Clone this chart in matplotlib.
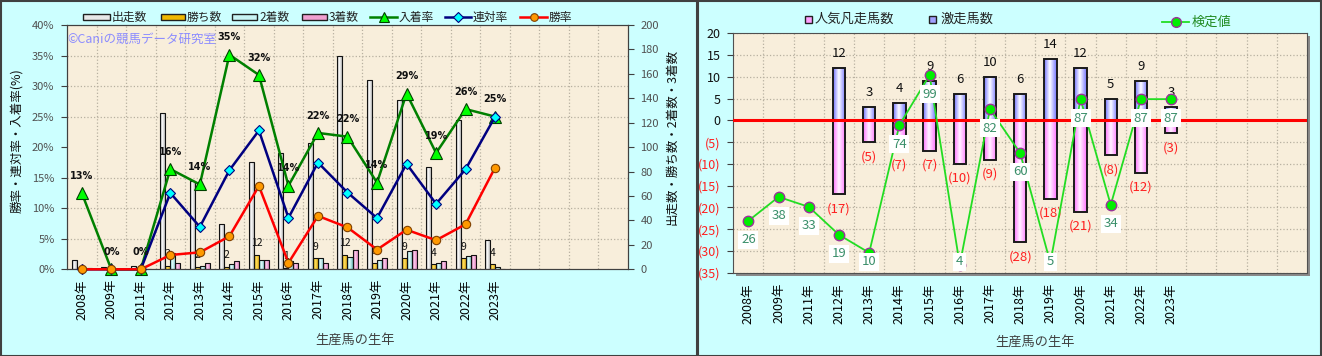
import numpy as np
import matplotlib
matplotlib.use('Agg')
import matplotlib.pyplot as plt
from matplotlib.patches import Rectangle
from matplotlib.lines import Line2D
from matplotlib.colors import LinearSegmentedColormap
from matplotlib.ticker import FixedLocator, MultipleLocator

plt.rcParams['font.family'] = ['Noto Sans CJK JP', 'DejaVu Sans']

# ---------------- data ----------------
years = ['2008年', '2009年', '2011年', '2012年', '2013年', '2014年', '2015年', '2016年',
         '2017年', '2018年', '2019年', '2020年', '2021年', '2022年', '2023年']
runs    = [8, 2, 3, 128, 72, 37, 88, 95, 103, 175, 155, 139, 84, 122, 24]
wins    = [0, 0, 0, 3, 2, 2, 12, 1, 9, 12, 5, 9, 4, 9, 4]
seconds = [0, 0, 0, 13, 3, 4, 8, 7, 9, 10, 8, 15, 5, 11, 2]
thirds  = [1, 0, 0, 5, 5, 7, 8, 5, 5, 16, 9, 16, 7, 12, 0]

gekisou = [0, 0, 0, 12, 3, 4, 9, 6, 10, 6, 14, 12, 5, 9, 3]      # 激走馬数
bonsou  = [0, 0, 0, 17, 5, 7, 7, 10, 9, 28, 18, 21, 8, 12, 3]    # 人気凡走馬数
kentei  = [26, 38, 33, 19, 10, 74, 99, 4, 82, 60, 5, 87, 34, 87, 87]  # 検定値

n_slots = 19

W, H = 1322, 356
fig = plt.figure(figsize=(W / 100, H / 100), dpi=100)
fig.patch.set_facecolor('#CCFFFF')


def fy(y):
    return 1 - y / H


def px_axes(x0, y0, x1, y1):
    return fig.add_axes([x0 / W, 1 - y1 / H, (x1 - x0) / W, (y1 - y0) / H])


def gradient_bars(ax, bars, c_edge, c_mid, mid=0.4):
    cmap = LinearSegmentedColormap.from_list('g', [(0, c_edge), (mid, c_mid), (1, c_edge)])
    grad = np.linspace(0, 1, 64).reshape(1, -1)
    for p in bars:
        x0, y0 = p.get_x(), p.get_y()
        w, h = p.get_width(), p.get_height()
        if h == 0:
            continue
        im = ax.imshow(grad, cmap=cmap, aspect='auto',
                       extent=[x0, x0 + w, min(y0, y0 + h), max(y0, y0 + h)],
                       zorder=p.get_zorder() - 0.05, interpolation='bilinear')
        im.set_clip_path(p)


# panel frames
fig.add_artist(Rectangle((0.5 / W, fy(355.5)), 696 / W, 355 / H, transform=fig.transFigure,
                         facecolor='none', edgecolor='#404040', lw=1.5, zorder=20))
fig.add_artist(Rectangle((697.5 / W, fy(355.5)), 623.5 / W, 355 / H, transform=fig.transFigure,
                         facecolor='none', edgecolor='#404040', lw=1.5, zorder=20))

x = np.arange(len(years))
slot_ticks = np.arange(n_slots)
slot_labels = years + [''] * (n_slots - len(years))
grid_kw = dict(color='#B8B0A0', linestyle=':', linewidth=0.9)

# ================= LEFT CHART =================
axc = px_axes(67, 25, 628, 269.3)
axc.set_facecolor('#F8EEDB')
bw = 0.17
offs = [-1.5 * bw, -0.5 * bw, 0.5 * bw, 1.5 * bw]
series = [(runs, '#A0A0A0', '#FFFFFF'), (wins, '#D89A00', '#FFE060'),
          (seconds, '#70C0C0', '#E8FFFF'), (thirds, '#D068A8', '#FFD0F0')]
for (vals, ce, cm), off in zip(series, offs):
    bars = axc.bar(x + off, vals, bw, facecolor='none', edgecolor='#111111',
                   linewidth=0.8, zorder=2)
    gradient_bars(axc, bars, ce, cm)

for i, w in enumerate(wins):
    if w > 0:
        axc.annotate(str(w), (x[i] + offs[1], w), xytext=(0, 8.5), textcoords='offset points',
                     ha='center', va='center', fontsize=7.5, color='#111111', zorder=5)

axp = axc.twinx()

axc.set_xlim(-0.5, n_slots - 0.5)
axc.set_ylim(0, 200)
axc.set_yticks(np.arange(0, 201, 20))
axc.yaxis.set_minor_locator(MultipleLocator(25))
axc.xaxis.set_minor_locator(FixedLocator(np.arange(0.5, n_slots - 0.5, 1)))
axc.grid(which='minor', **grid_kw)
axc.grid(which='major', visible=False)
axc.set_axisbelow(True)
axc.set_xticks(slot_ticks)
axc.set_xticklabels(slot_labels, rotation=90, fontsize=9)
axc.yaxis.tick_right()
axc.tick_params(axis='y', which='major', length=4, direction='out', labelsize=8,
                labelcolor='#505050', pad=5, color='#404040',
                left=False, labelleft=False, right=True, labelright=True)
axc.tick_params(which='minor', length=0)
axc.tick_params(axis='x', which='major', length=0, pad=7)
for s in axc.spines.values():
    s.set_color('#404040')

ins_rate = [(w + s + t) / r * 100 for w, s, t, r in zip(wins, seconds, thirds, runs)]
ren_rate = [(w + s) / r * 100 for w, s, r in zip(wins, seconds, runs)]
win_rate = [w / r * 100 for w, r in zip(wins, runs)]
axp.plot(x, ins_rate, color='#008000', lw=1.8, marker='^', ms=8.5, mfc='#00FF00',
         mec='#004000', mew=0.8, zorder=3, clip_on=False)
axp.plot(x, ren_rate, color='#000080', lw=1.8, marker='D', ms=5.5, mfc='#00FFFF',
         mec='#000080', mew=0.8, zorder=4, clip_on=False)
axp.plot(x, win_rate, color='#FF0000', lw=1.8, marker='o', ms=6, mfc='#FF9900',
         mec='#804000', mew=0.8, zorder=5, clip_on=False)
for i, v in enumerate(ins_rate):
    axp.annotate('%d%%' % int(v + 0.5), (x[i], v), xytext=(0, 12.5), textcoords='offset points',
                 ha='center', va='center', fontsize=7, fontweight='bold',
                 family='DejaVu Sans', color='#111111', zorder=6)
axp.set_ylim(0, 40)
axp.set_xlim(-0.5, n_slots - 0.5)
axp.set_yticks(np.arange(0, 41, 5))
axp.set_yticklabels(['%d%%' % t for t in range(0, 41, 5)])
axp.yaxis.tick_left()
axp.tick_params(axis='y', length=4, direction='out', labelsize=8, labelcolor='#505050',
                pad=5, color='#404040', left=True, labelleft=True, right=False, labelright=False)
for s in axp.spines.values():
    s.set_color('#404040')

fig.text(67 / W, fy(39), '©Caniの競馬データ研究室', color='#8C8CFF', fontsize=9,
         ha='left', va='center', zorder=10)
fig.text(17 / W, fy(141), '勝率・連対率・入着率(%)', rotation=90, ha='center', va='center',
         fontsize=9, color='#111111')
fig.text(672 / W, fy(137), '出走数・勝ち数・2着数・3着数', rotation=90, ha='center', va='center',
         fontsize=9, color='#111111')
fig.text(355 / W, fy(340), '生産馬の生年', ha='center', va='center', fontsize=9.5, color='#404040')


# left legend
def legend_bar(x0, x1, yc, h, face):
    fig.add_artist(Rectangle((x0 / W, fy(yc + h / 2)), (x1 - x0) / W, h / H,
                             transform=fig.transFigure, facecolor=face,
                             edgecolor='#202020', lw=1.0, zorder=5))


def legend_line(x0, x1, yc, color, marker, mfc, mec, ms):
    fig.add_artist(Line2D([x0 / W, x1 / W], [fy(yc)] * 2, transform=fig.transFigure,
                          color=color, lw=1.8, zorder=5))
    fig.add_artist(Line2D([(x0 + x1) / 2 / W], [fy(yc)], transform=fig.transFigure,
                          marker=marker, mfc=mfc, mec=mec, ms=ms, mew=0.8, zorder=6))


leg_y = 17
legend_bar(83, 110, leg_y, 6, '#E8E8E8')
fig.text(112 / W, fy(leg_y), '出走数', fontsize=8.5, va='center', color='#222222')
legend_bar(161, 185, leg_y, 6, '#F0B800')
fig.text(187 / W, fy(leg_y), '勝ち数', fontsize=8.5, va='center', color='#222222')
legend_bar(232, 257, leg_y, 6, '#C8F4F4')
fig.text(259 / W, fy(leg_y), '2着数', fontsize=8.5, va='center', color='#222222')
legend_bar(302, 327, leg_y, 6, '#F0A0D0')
fig.text(329 / W, fy(leg_y), '3着数', fontsize=8.5, va='center', color='#222222')
legend_line(370, 397, leg_y, '#008000', '^', '#00FF00', '#004000', 7)
fig.text(399 / W, fy(leg_y), '入着率', fontsize=8.5, va='center', color='#222222')
legend_line(445, 471, leg_y, '#000080', 'D', '#00FFFF', '#000080', 5)
fig.text(473 / W, fy(leg_y), '連対率', fontsize=8.5, va='center', color='#222222')
legend_line(520, 547, leg_y, '#FF0000', 'o', '#FF9900', '#804000', 5.5)
fig.text(549 / W, fy(leg_y), '勝率', fontsize=8.5, va='center', color='#222222')

# ================= RIGHT CHART =================
fig.add_artist(Rectangle((736 / W, fy(275.7)), (1307 - 733.3) / W, (272.7 - 33.3) / H,
                         transform=fig.transFigure, facecolor='#8A8A8A', edgecolor='none',
                         zorder=-0.5))
axR = px_axes(733.3, 33.3, 1307, 272.7)
axR.set_facecolor('#F8EEDB')
rw = 0.41
gb = axR.bar(x, gekisou, rw, facecolor='none', edgecolor='#1A1A1A', linewidth=1.4, zorder=2)
gradient_bars(axR, gb, '#7070FF', '#FFFFFF', 0.45)
bb = axR.bar(x, [-b for b in bonsou], rw, facecolor='none', edgecolor='#1A1A1A',
             linewidth=1.4, zorder=2)
gradient_bars(axR, bb, '#FF70FF', '#FFF4FF', 0.45)
axR.axhline(0, color='#FF0000', lw=2.2, zorder=3)
for i in range(len(years)):
    if gekisou[i] > 0:
        axR.annotate(str(gekisou[i]), (x[i], gekisou[i]), xytext=(0, 10.5),
                     textcoords='offset points', ha='center', va='center',
                     fontsize=9.5, color='#111111', zorder=6)
    if bonsou[i] > 0:
        axR.annotate('(%d)' % bonsou[i], (x[i], -bonsou[i]), xytext=(0, -10.5),
                     textcoords='offset points', ha='center', va='center',
                     fontsize=9.5, color='#FF2020', zorder=6)

axR.set_xlim(-0.5, n_slots - 0.5)
axR.set_ylim(-35, 20)
rticks = list(range(20, -36, -5))
axR.set_yticks(rticks)
axR.set_yticklabels([str(t) if t >= 0 else '(%d)' % -t for t in rticks])
for lbl, t in zip(axR.get_yticklabels(), rticks):
    lbl.set_color('#111111' if t >= 0 else '#FF2020')
axR.tick_params(axis='y', length=4, direction='out', labelsize=9, pad=5, color='#404040')
axR.xaxis.set_minor_locator(FixedLocator(np.arange(0.5, n_slots - 0.5, 1)))
axR.grid(which='minor', axis='x', **grid_kw)
axR.grid(which='major', axis='y', **grid_kw)
axR.set_axisbelow(True)
axR.tick_params(which='minor', length=0)
axR.set_xticks(slot_ticks)
axR.set_xticklabels(slot_labels, rotation=90, fontsize=9)
axR.tick_params(axis='x', which='major', length=0, pad=7.5)
for s in axR.spines.values():
    s.set_color('#505050')

ax2 = axR.twinx()
ax2.set_ylim(0, 120)
ax2.set_xlim(-0.5, n_slots - 0.5)
ax2.axis('off')
ax2.plot(x, kentei, color='#22DD22', lw=1.3, marker='o', ms=7.5, mfc='#00EE00',
         mec='#993399', mew=1.0, zorder=3, clip_on=False)
for i, v in enumerate(kentei):
    ax2.text(x[i], max(v - 9.5, 5.4), str(v), ha='center', va='center', fontsize=9.5,
             color='#3A8F6A', zorder=5,
             bbox=dict(boxstyle='square,pad=0.2', facecolor='white', edgecolor='none'))

fig.text(1035 / W, fy(342), '生産馬の生年', ha='center', va='center', fontsize=9.5, color='#404040')

# right legend
fig.add_artist(Rectangle((805 / W, fy(22.5)), 7 / W, 7 / H, transform=fig.transFigure,
                         facecolor='#FFA0FF', edgecolor='#202020', lw=1.0, zorder=5))
fig.text(815 / W, fy(19), '人気凡走馬数', fontsize=9.5, va='center', color='#222222')
fig.add_artist(Rectangle((929 / W, fy(22.5)), 7 / W, 7 / H, transform=fig.transFigure,
                         facecolor='#A0A0FF', edgecolor='#202020', lw=1.0, zorder=5))
fig.text(940 / W, fy(19), '激走馬数', fontsize=9.5, va='center', color='#222222')
fig.add_artist(Line2D([1162 / W, 1189 / W], [fy(22)] * 2, transform=fig.transFigure,
                      color='#22DD22', lw=1.3, zorder=5))
fig.add_artist(Line2D([1175.5 / W], [fy(22)], transform=fig.transFigure, marker='o', ms=7,
                      mfc='#00EE00', mec='#993399', mew=1.0, zorder=6))
fig.text(1192 / W, fy(22), '検定値', fontsize=9.5, va='center', color='#228B22')

fig.savefig('out.png', dpi=100, facecolor=fig.get_facecolor())
